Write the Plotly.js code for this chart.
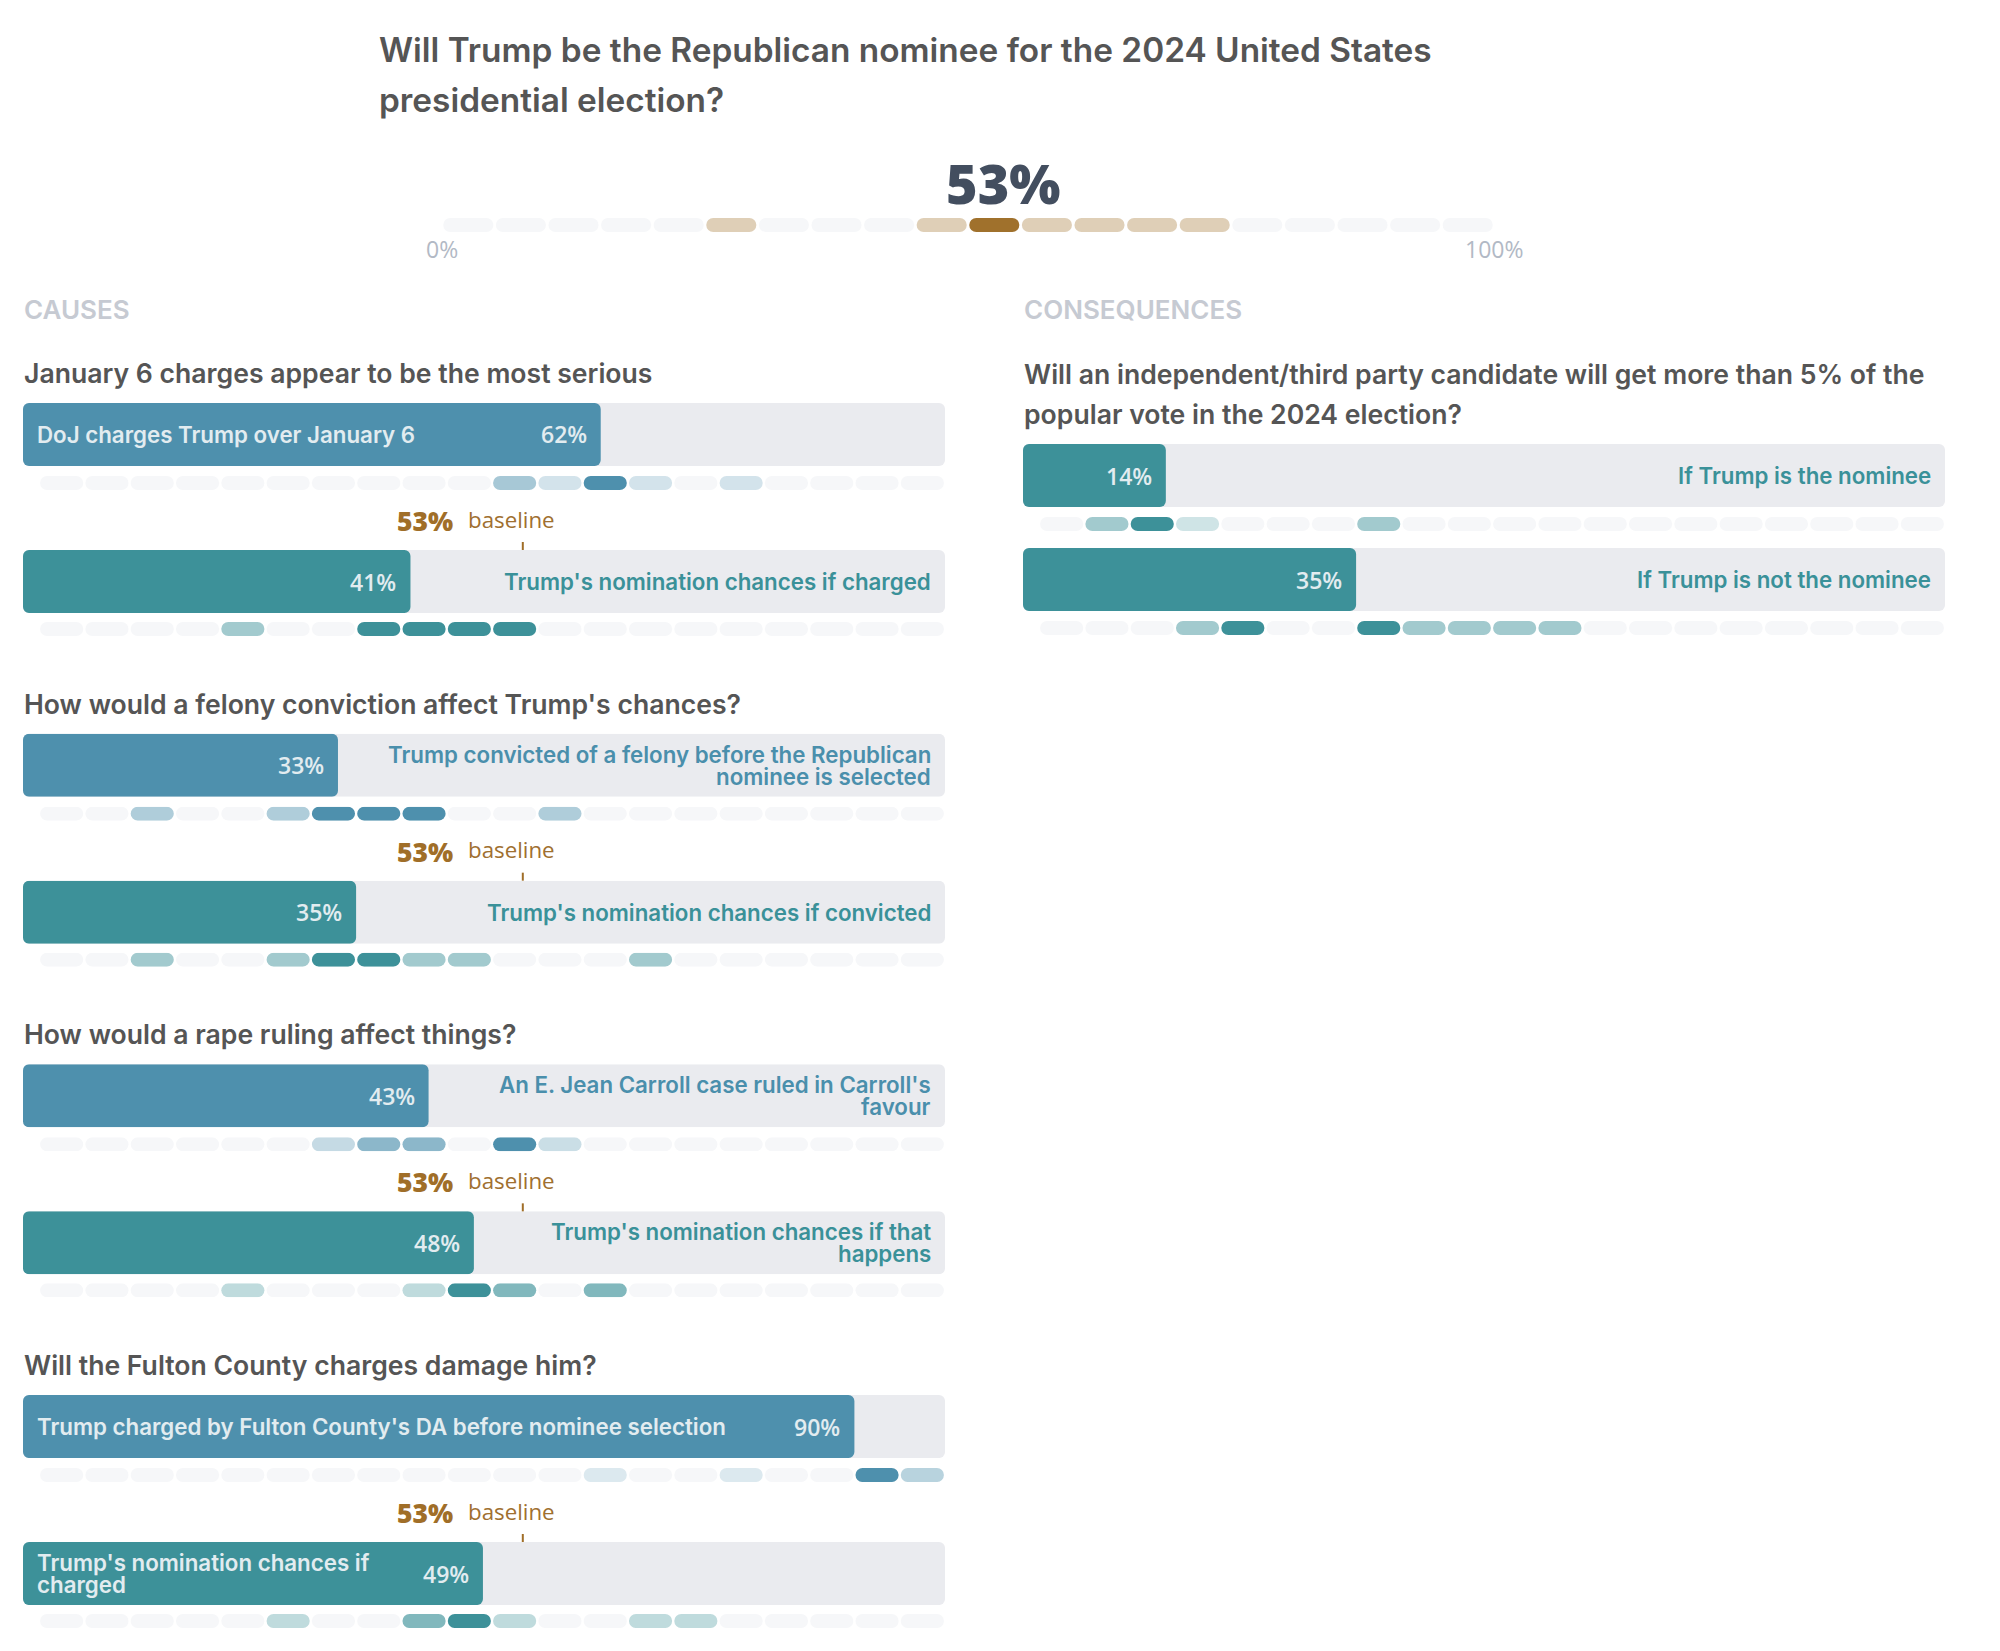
<!DOCTYPE html>
<html>
<head>
<meta charset="utf-8">
<script src="https://cdn.plot.ly/plotly-3.0.1.min.js"></script>
<style>
html,body{margin:0;padding:0;background:#ffffff;}
#chart{width:2000px;height:1651px;}
</style>
</head>
<body>
<div id="chart"></div>
<script>
// ================= DATA =================
const titleLines = ["Will Trump be the Republican nominee for the 2024 United States", "presidential election?"];
const baselineChance = 53.4;
const bins = [0,5,10,15,20,25,30,35,40,45,50,55,60,65,70,75,80,85,90,95];
const baselineDist = [0,0,0,0,0,0.34,0,0,0,0.34,1,0.34,0.34,0.34,0.34,0,0,0,0,0];

const causesHeader = "CAUSES";
const consequencesHeader = "CONSEQUENCES";

const causeQuestions = [
  "January 6 charges appear to be the most serious",
  "How would a felony conviction affect Trump's chances?",
  "How would a rape ruling affect things?",
  "Will the Fulton County charges damage him?"
];
const eventLabels = [
  "DoJ charges Trump over January 6",
  "Trump convicted of a felony before the Republican\nnominee is selected",
  "An E. Jean Carroll case ruled in Carroll's\nfavour",
  "Trump charged by Fulton County's DA before nominee selection"
];
const eventValues = [62, 33, 43, 90];
const eventDists = [
  [0,0,0,0,0,0,0,0,0,0,0.5,0.25,1,0.25,0,0.25,0,0,0,0],
  [0,0,0.45,0,0,0.45,1,1,1,0,0,0.45,0,0,0,0,0,0,0,0],
  [0,0,0,0,0,0,0.33,0.65,0.65,0,1,0.3,0,0,0,0,0,0,0,0],
  [0,0,0,0,0,0,0,0,0,0,0,0,0.2,0,0,0.2,0,0,1,0.4]
];
const outcomeLabels = [
  "Trump's nomination chances if charged",
  "Trump's nomination chances if convicted",
  "Trump's nomination chances if that\nhappens",
  "Trump's nomination chances if\ncharged"
];
const outcomeValues = [41, 35, 48, 49];
const outcomeDists = [
  [0,0,0,0,0.48,0,0,1,1,1,1,0,0,0,0,0,0,0,0,0],
  [0,0,0.48,0,0,0.48,1,1,0.48,0.48,0,0,0,0.48,0,0,0,0,0,0],
  [0,0,0,0,0.33,0,0,0,0.33,1,0.65,0,0.65,0,0,0,0,0,0,0],
  [0,0,0,0,0,0.33,0,0,0.65,1,0.33,0,0,0.33,0.33,0,0,0,0,0]
];

const consQuestionLines = [
  "Will an independent/third party candidate will get more than 5% of the",
  "popular vote in the 2024 election?"
];
const consLabels = ["If Trump is the nominee", "If Trump is not the nominee"];
const consValues = [14, 35];
const consDists = [
  [0,0.48,1,0.25,0,0,0,0.48,0,0,0,0,0,0,0,0,0,0,0,0],
  [0,0,0,0.48,1,0,0,1,0.48,0.48,0.48,0.48,0,0,0,0,0,0,0,0]
];

// ================= STYLE / LAYOUT =================
const W = 2000, H = 1651;
const BLUE = '#4e90ad', TEAL = '#3d9199', BROWN = '#a0712c';
const TRACK = '#eaebef', EMPTY = '#f6f7f9';
const LABEL_BLUE = '#4a8fac', LABEL_TEAL = '#3a9199';
const INNER_TXT = '#e2ecf0';
const HEAD = '#555555';
const SANS = 'Inter, "Noto Sans", sans-serif';
const NUM = '"Open Sans", sans-serif';
const PAD = 16 / 906 * 100;      // bar starts a little before the 0 of the strip scale
const HALF_SEG = 2.38;           // half width of a strip segment in % units

const px = v => v / W;
const py = v => 1 - v / H;

function hexToRgb(h){ h=h.replace('#',''); return [0,2,4].map(i=>parseInt(h.substr(i,2),16)); }
function mix(hex, w){
  if (w <= 0) return EMPTY;
  const c = hexToRgb(hex);
  const m = c.map(v => Math.round(255 - (255 - v) * w));
  return 'rgb(' + m.join(',') + ')';
}

const layout = {
  width: W, height: H,
  margin: {l:0, r:0, t:0, b:0},
  paper_bgcolor: '#ffffff', plot_bgcolor: 'rgba(0,0,0,0)',
  showlegend: false, barmode: 'overlay',
  xaxis:  {domain:[px(23), px(945)],   range:[-PAD,100], visible:false, fixedrange:true},
  xaxis2: {domain:[px(1023), px(1945)], range:[-PAD,100], visible:false, fixedrange:true},
  xaxis3: {domain:[px(442), px(1494)],  range:[0,100],    visible:false, fixedrange:true},
  annotations: [], shapes: []
};
const traces = [];
let yCount = 0;
function newY(xId, topPx, heightPx){
  yCount++;
  const key = yCount === 1 ? 'yaxis' : 'yaxis' + yCount;
  const id = yCount === 1 ? 'y' : 'y' + yCount;
  layout[key] = {domain:[py(topPx + heightPx), py(topPx)], range:[-0.5,0.5], visible:false, fixedrange:true, anchor:xId};
  return id;
}
// rounded bars with a floating base (Plotly rounds all four corners when base is set)
function pill(xId, yId, starts, ends, colors, radius){
  traces.push({type:'bar', orientation:'h', xaxis:xId, yaxis:yId,
    x: starts.map((s, i) => ends[i] - s), base: starts, y: starts.map(() => 0),
    width: starts.map(() => 1), marker:{color:colors, cornerradius:radius, line:{width:0}},
    hoverinfo:'skip', textposition:'none'});
}
function ann(text, o){
  layout.annotations.push(Object.assign({text:text, showarrow:false, borderpad:0}, o));
}
function multiline(text, lineH, o){
  const lines = text.split('\n'); const n = lines.length;
  lines.forEach((ln, k) => ann(ln, Object.assign({}, o, {yshift:(o.yshift||0) + ((n-1)/2 - k) * lineH})));
}
function strip(xId, centerPx, dist, color){
  const yId = newY(xId, centerPx - 7, 14);
  pill(xId, yId, bins.map(b => b + 2.5 - HALF_SEG), bins.map(b => b + 2.5 + HALF_SEG), dist.map(w => mix(color, w)), 7);
  return yId;
}
function barRow(xId, topPx, value, label, color, labelColor, inside){
  const yId = newY(xId, topPx, 63);
  pill(xId, yId, [-PAD], [100], [TRACK], 6);
  pill(xId, yId, [-PAD], [value], [color], 6);
  const yd = yId + ' domain';
  ann(Math.round(value) + '%', {xref:xId, x:value, xanchor:'right', xshift:-13, yref:yd, y:0.5, yanchor:'middle',
    font:{family:NUM, size:23, weight:600, color:INNER_TXT}});
  if (inside){
    multiline(label, 22, {xref:xId, x:-PAD, xanchor:'left', xshift:13, yref:yd, y:0.5, yanchor:'middle', align:'left',
      font:{family:SANS, size:22.3, weight:600, color:INNER_TXT}});
  } else {
    multiline(label, 22, {xref:xId + ' domain', x:1, xanchor:'right', xshift:-13, yref:yd, y:0.5, yanchor:'middle', align:'right',
      font:{family:SANS, size:22.3, weight:600, color:labelColor}});
  }
  return yId;
}

// ---- header ----
titleLines.forEach((t, k) => ann(t, {xref:'paper', x:px(378), xanchor:'left', yref:'paper', y:py(50 + 50*k), yanchor:'middle',
  font:{family:SANS, size:33.4, weight:600, color:HEAD}}));
strip('x3', 225, baselineDist, BROWN);
ann(Math.round(baselineChance) + '%', {xref:'x3', x:baselineChance, xanchor:'center', yref:'paper', y:py(183), yanchor:'middle',
  font:{family:NUM, size:54, weight:800, color:'#434e5f'}});
ann('0%', {xref:'x3', x:0, xanchor:'center', yref:'paper', y:py(249), yanchor:'middle', font:{family:NUM, size:23, weight:400, color:'#b2b9c5'}});
ann('100%', {xref:'x3', x:100, xanchor:'center', yref:'paper', y:py(249), yanchor:'middle', font:{family:NUM, size:23, weight:400, color:'#b2b9c5'}});
ann(causesHeader, {xref:'paper', x:px(23), xanchor:'left', yref:'paper', y:py(310), yanchor:'middle', font:{family:SANS, size:26, weight:600, color:'#c6cad2'}});
ann(consequencesHeader, {xref:'paper', x:px(1023), xanchor:'left', yref:'paper', y:py(310), yanchor:'middle', font:{family:SANS, size:26, weight:600, color:'#c6cad2'}});

// ---- causes ----
const insideEvent = [true, false, false, true];
const insideOutcome = [false, false, false, true];
causeQuestions.forEach((q, g) => {
  const top = 403 + g * 330.67;
  ann(q, {xref:'paper', x:px(23), xanchor:'left', yref:'paper', y:py(top - 30), yanchor:'middle', font:{family:SANS, size:26.6, weight:600, color:HEAD}});
  barRow('x', top, eventValues[g], eventLabels[g], BLUE, LABEL_BLUE, insideEvent[g]);
  strip('x', top + 80, eventDists[g], BLUE);
  ann(Math.round(baselineChance) + '%', {xref:'x', x:baselineChance, xanchor:'right', xshift:-69, yref:'paper', y:py(top + 118), yanchor:'middle',
    font:{family:NUM, size:26.5, weight:800, color:'#a06e28'}});
  ann('baseline', {xref:'x', x:baselineChance, xanchor:'left', xshift:-56, yref:'paper', y:py(top + 116), yanchor:'middle',
    font:{family:NUM, size:22.3, weight:400, color:'#a07030'}});
  layout.shapes.push({type:'line', xref:'x', x0:baselineChance, x1:baselineChance, yref:'paper', y0:py(top + 139), y1:py(top + 147),
    line:{color:'#a06e28', width:2}});
  barRow('x', top + 147, outcomeValues[g], outcomeLabels[g], TEAL, LABEL_TEAL, insideOutcome[g]);
  strip('x', top + 226, outcomeDists[g], TEAL);
});

// ---- consequences ----
consQuestionLines.forEach((t, k) => ann(t, {xref:'paper', x:px(1023), xanchor:'left', yref:'paper', y:py(374 + 40*k), yanchor:'middle',
  font:{family:SANS, size:26.6, weight:600, color:HEAD}}));
const consTops = [444, 548];
consValues.forEach((v, i) => {
  barRow('x2', consTops[i], v, consLabels[i], TEAL, LABEL_TEAL, false);
  strip('x2', consTops[i] + 80, consDists[i], TEAL);
});

Plotly.newPlot('chart', traces, layout, {displayModeBar:false, staticPlot:true});
</script>
</body>
</html>
